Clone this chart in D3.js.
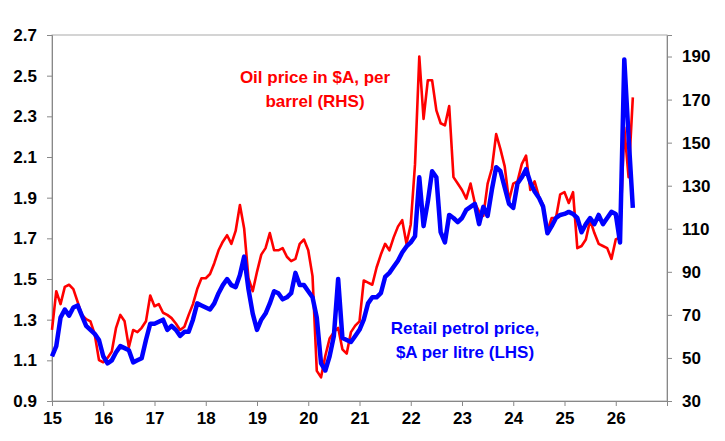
<!DOCTYPE html>
<html>
<head>
<meta charset="utf-8">
<script src="https://cdn.jsdelivr.net/npm/d3@7"></script>
<style>
  body { margin: 0; background: #fff; }
  text { font-family: "Liberation Sans", Arial, sans-serif; font-weight: bold; }
</style>
</head>
<body>
<div id="chart"></div>
<script>
// monthly data, Jan 2015 to May 2026
const startYear = 2015;
const petrol = [
  1.12, 1.17, 1.31, 1.35, 1.32, 1.36, 1.37, 1.32, 1.27, 1.25, 1.23, 1.20,
  1.12, 1.085, 1.10, 1.14, 1.17, 1.16, 1.15, 1.09, 1.10, 1.11, 1.20, 1.28,
  1.28, 1.29, 1.30, 1.25, 1.27, 1.25, 1.22, 1.24, 1.24, 1.30, 1.38, 1.37,
  1.36, 1.35, 1.38, 1.43, 1.47, 1.50, 1.47, 1.46, 1.52, 1.61, 1.45, 1.33,
  1.25, 1.30, 1.33, 1.38, 1.44, 1.43, 1.40, 1.41, 1.43, 1.53, 1.47, 1.47,
  1.44, 1.41, 1.31, 1.085, 1.05, 1.12, 1.22, 1.50, 1.21, 1.20, 1.19, 1.22,
  1.25, 1.30, 1.38, 1.41, 1.41, 1.43, 1.51, 1.53, 1.56, 1.59, 1.63, 1.66,
  1.68, 1.71, 2.00, 1.76, 1.88, 2.03, 2.00, 1.73, 1.68, 1.815, 1.80, 1.78,
  1.80, 1.84, 1.855, 1.87, 1.77, 1.855, 1.81, 1.94, 2.05, 2.03, 1.95, 1.87,
  1.85, 1.97, 2.00, 2.04, 1.975, 1.93, 1.90, 1.855, 1.725, 1.76, 1.80, 1.815,
  1.82, 1.83, 1.82, 1.80, 1.73, 1.77, 1.80, 1.77, 1.815, 1.77, 1.80, 1.83,
  1.82, 1.68, 2.58, 2.20, 1.85
];
const oil = [
  63, 81, 75, 83, 84, 82, 76, 70, 68, 67, 61, 49,
  48, 50, 53, 64, 70, 67, 55, 63, 62, 64, 67, 79,
  74, 75, 71, 70, 68.5, 66, 63, 64.5, 70, 75, 82, 87,
  87, 89, 94, 100, 104, 107, 103, 109, 121, 110, 87, 81,
  90, 98, 101, 108, 100, 100, 101, 97, 95, 96, 103, 105,
  100, 88, 44, 41, 51, 59, 62, 64, 54, 52, 62, 65,
  67, 86, 85, 84, 92, 98, 103, 100, 106, 111, 114, 103,
  112, 140, 190, 161, 179, 179, 165, 159, 158, 167, 134, 131,
  128, 124, 131, 122, 118, 116, 131, 138, 154, 147, 139, 123,
  131, 132, 140, 144, 128, 132, 125, 121, 109, 115, 115, 126,
  127, 122, 127, 101, 102, 105, 114, 108, 103, 102, 101, 96,
  105, 106, 157, 134, 171
];
const yearTicks = [2015, 2016, 2017, 2018, 2019, 2020, 2021, 2022, 2023, 2024, 2025, 2026, 2027];
const leftTicks = [0.9, 1.1, 1.3, 1.5, 1.7, 1.9, 2.1, 2.3, 2.5, 2.7];
const rightTicks = [30, 50, 70, 90, 110, 130, 150, 170, 190];

const margin = { top: 35, right: 58, bottom: 40, left: 52 };
const width = 725 - margin.left - margin.right;
const height = 441 - margin.top - margin.bottom;

const svg = d3.select("#chart")
  .append("svg")
  .attr("width", 725)
  .attr("height", 441)
  .append("g")
  .attr("transform", "translate(" + margin.left + "," + margin.top + ")");

const x = d3.scaleLinear().domain([2015, 2027]).range([0, width]);
const yL = d3.scaleLinear().domain([0.9, 2.7]).range([height, 0]);
const yR = d3.scaleLinear().domain([30, 200]).range([height, 0]);

// frame
svg.append("rect")
  .attr("width", width).attr("height", height)
  .attr("fill", "none").attr("stroke", "#aaa").attr("stroke-width", 1);

const styleAxis = g => {
  g.select(".domain").attr("stroke", "#888");
  g.selectAll(".tick line").attr("stroke", "#888");
  g.selectAll("text").attr("font-size", 17).attr("fill", "#000");
};

svg.append("g")
  .attr("transform", "translate(0," + height + ")")
  .call(d3.axisBottom(x).tickValues(yearTicks).tickSize(5).tickPadding(6)
    .tickFormat(d => d === 2027 ? "" : String(d % 100)))
  .call(styleAxis);

svg.append("g")
  .call(d3.axisLeft(yL).tickValues(leftTicks).tickSize(5).tickPadding(10)
    .tickFormat(d3.format(".1f")))
  .call(styleAxis);

svg.append("g")
  .attr("transform", "translate(" + width + ",0)")
  .call(d3.axisRight(yR).tickValues(rightTicks).tickSize(5).tickPadding(10))
  .call(styleAxis);

const t = i => startYear + i / 12;

svg.append("path")
  .datum(oil)
  .attr("fill", "none")
  .attr("stroke", "#ff0000")
  .attr("stroke-width", 2.6)
  .attr("stroke-linejoin", "round")
  .attr("d", d3.line().x((d, i) => x(t(i))).y(d => yR(d)));

svg.append("path")
  .datum(petrol)
  .attr("fill", "none")
  .attr("stroke", "#0000ff")
  .attr("stroke-width", 4.5)
  .attr("stroke-linejoin", "round")
  .attr("d", d3.line().x((d, i) => x(t(i))).y(d => yL(d)));

// labels
const oilLabel = svg.append("text")
  .attr("x", 263).attr("y", 48)
  .attr("text-anchor", "middle")
  .attr("font-size", 17)
  .attr("fill", "#ff0000");
oilLabel.append("tspan").attr("x", 263).text("Oil price in $A, per");
oilLabel.append("tspan").attr("x", 263).attr("dy", 24).text("barrel (RHS)");

const petrolLabel = svg.append("text")
  .attr("x", 413).attr("y", 299)
  .attr("text-anchor", "middle")
  .attr("font-size", 17)
  .attr("fill", "#0000ff");
petrolLabel.append("tspan").attr("x", 413).text("Retail petrol price,");
petrolLabel.append("tspan").attr("x", 413).attr("dy", 24).text("$A per litre (LHS)");
</script>
</body>
</html>
